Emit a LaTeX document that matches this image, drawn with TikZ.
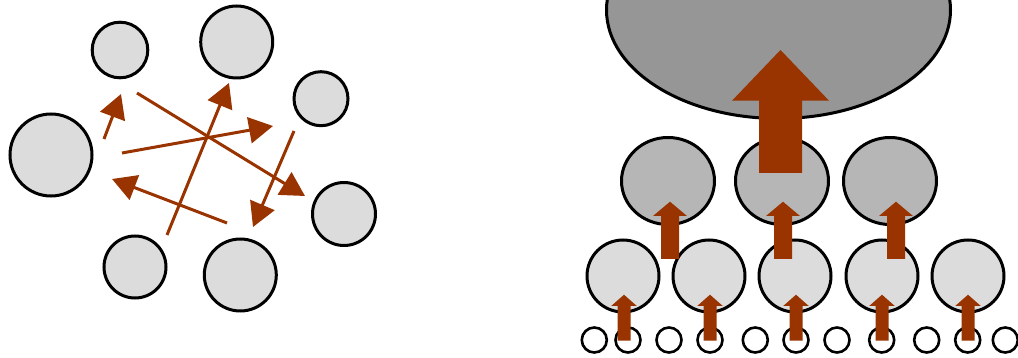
\documentclass[tikz,border=0pt]{standalone}
\usetikzlibrary{arrows.meta,shapes.geometric}
\definecolor{arr}{RGB}{153,51,0}
\definecolor{lightg}{RGB}{220,220,220}
\definecolor{midg}{RGB}{182,182,182}
\definecolor{darkg}{RGB}{150,150,150}
\newcommand\blockup[6]{%
  \fill[arr] ({#1-#5},#4) -- ({#1-#5},#3) -- ({#1-#6},#3) -- (#1,#2) -- ({#1+#6},#3) -- ({#1+#5},#3) -- ({#1+#5},#4) -- cycle;}
\begin{document}
\begin{tikzpicture}[x=1pt,y=-1pt,
  ball/.style={circle,draw=black,line width=3pt,fill=lightg,inner sep=0pt},
  midball/.style={ellipse,draw=black,line width=3pt,fill=midg,inner sep=0pt,minimum width=93pt,minimum height=87pt},
  bigball/.style={ellipse,draw=black,line width=3pt,fill=darkg,inner sep=0pt,minimum width=344pt,minimum height=217pt},
  tiny/.style={circle,draw=black,line width=2.6pt,fill=white,inner sep=0pt,minimum size=25pt},
  flow/.style={draw=arr,line width=3pt,-{Triangle[length=24pt,width=26pt]}}]
\useasboundingbox (0,0) rectangle (1018,358);
\clip (0,0) rectangle (1018,358);
% left: free particles
\node[ball,minimum size=55.6pt] (c1) at (120,50) {};
\node[ball,minimum size=72pt] (c2) at (236.7,42) {};
\node[ball,minimum size=54pt] (c3) at (321,98.7) {};
\node[ball,minimum size=82pt] (c4) at (51,155) {};
\node[ball,minimum size=63pt] (c5) at (344,214) {};
\node[ball,minimum size=62pt] (c6) at (135,267) {};
\node[ball,minimum size=72pt] (c7) at (240.3,275) {};
\coordinate (a1s) at (104,139); \coordinate (a1e) at (121,94);
\coordinate (a2s) at (137,93);  \coordinate (a2e) at (305,196);
\coordinate (a3s) at (122,153); \coordinate (a3e) at (273,126);
\coordinate (a4s) at (167,235); \coordinate (a4e) at (229,83);
\coordinate (a5s) at (294,131); \coordinate (a5e) at (253,227);
\coordinate (a6s) at (227,223); \coordinate (a6e) at (112,179);
\draw[flow] (a1s) -- (a1e);
\draw[flow] (a2s) -- (a2e);
\draw[flow] (a3s) -- (a3e);
\draw[flow] (a4s) -- (a4e);
\draw[flow] (a5s) -- (a5e);
\draw[flow] (a6s) -- (a6e);
% right: hierarchy
\node[bigball] (big) at (778.5,10) {};
\node[midball] (m1) at (668,181) {};
\node[midball] (m2) at (782,181) {};
\node[midball] (m3) at (890,181) {};
\foreach \x [count=\i] in {623,709,795,882,968}
  {\node[ball,minimum size=72pt] (s\i) at (\x,276) {};}
\foreach \x [count=\i] in {594.3,628,669,710,755.3,796,837,881.7,926.7,967.7,1005.3}
  {\node[tiny] (t\i) at (\x,340) {};}
% block arrows
\blockup{780.5}{50}{100.7}{173}{21.5}{48.5}
\foreach \x in {670,783,896}
  {\blockup{\x}{201.7}{216}{259}{9}{17}}
\foreach \x in {624,710,796,882,968}
  {\blockup{\x}{294.7}{306}{340.7}{6.5}{12.8}}
\end{tikzpicture}
\end{document}
